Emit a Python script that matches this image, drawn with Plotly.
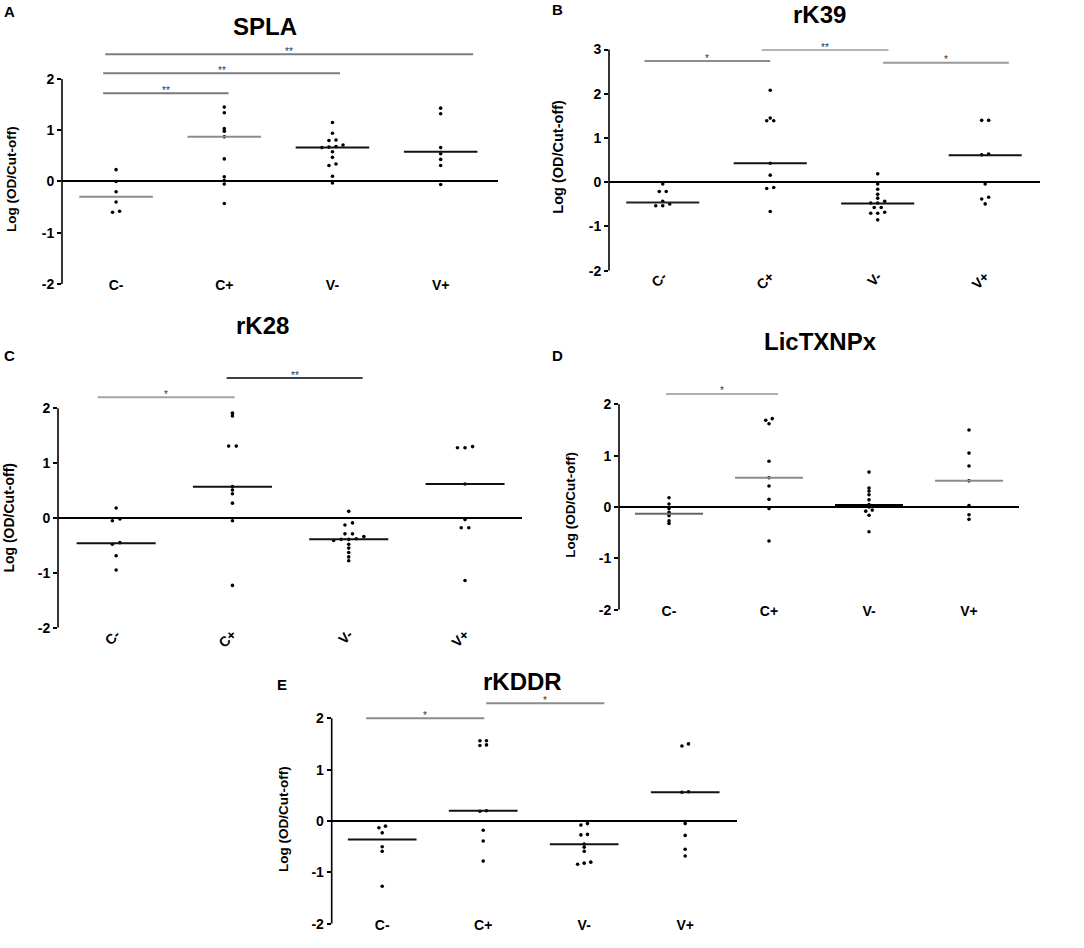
import plotly.graph_objects as go

W, H = 1084, 948
FONT = "Liberation Sans, Arial, sans-serif"

GROUPS = ["C-", "C+", "V-", "V+"]

# --- SPLA ---
SPLA_CN = [0.23, 0.0, -0.2, -0.4, -0.58, -0.6]
SPLA_CP = [1.45, 1.34, 1.03, 0.98, 0.87, 0.44, 0.09, 0.02, -0.05, -0.43]
SPLA_VN = [1.15, 0.94, 0.81, 0.80, 0.71, 0.68, 0.67, 0.66, 0.58, 0.47, 0.34, 0.31, 0.1, -0.03]
SPLA_VP = [1.43, 1.32, 0.66, 0.54, 0.43, 0.31, -0.06]
SPLA_MED = [-0.3, 0.87, 0.66, 0.58]
SPLA_SIG = [(0, 1, "**"), (0, 2, "**"), (0, 3, "**")]

# --- rK39 ---
RK39_CN = [-0.04, -0.21, -0.21, -0.43, -0.49, -0.53, -0.53]
RK39_CP = [2.08, 1.45, 1.39, 1.39, 0.43, 0.16, -0.12, -0.14, -0.66]
RK39_VN = [0.19, -0.04, -0.16, -0.27, -0.36, -0.43, -0.47, -0.47, -0.57, -0.57, -0.68, -0.70, -0.70, -0.85]
RK39_VP = [1.40, 1.40, 0.64, 0.62, -0.04, -0.34, -0.38, -0.49]
RK39_MED = [-0.46, 0.43, -0.48, 0.61]
RK39_SIG = [(0, 1, "*"), (1, 2, "**"), (2, 3, "*")]

# --- rK28 ---
RK28_CN = [0.18, -0.02, -0.05, -0.45, -0.48, -0.69, -0.95]
RK28_CP = [1.91, 1.86, 1.31, 1.31, 0.57, 0.51, 0.44, 0.27, -0.05, -1.23]
RK28_VN = [0.12, -0.09, -0.13, -0.29, -0.29, -0.34, -0.38, -0.39, -0.39, -0.41, -0.48, -0.55, -0.63, -0.71, -0.78]
RK28_VP = [1.30, 1.28, 1.28, 0.62, -0.03, -0.18, -0.18, -1.14]
RK28_MED = [-0.46, 0.57, -0.39, 0.62]
RK28_SIG = [(0, 1, "*"), (1, 2, "**")]

# --- LicTXNPx ---
LIC_CN = [0.18, 0.06, -0.03, -0.10, -0.17, -0.27, -0.32]
LIC_CP = [1.72, 1.69, 1.62, 0.89, 0.57, 0.41, 0.15, -0.03, -0.66]
LIC_VN = [0.68, 0.37, 0.31, 0.24, 0.14, 0.05, 0.0, -0.06, -0.08, -0.16, -0.48]
LIC_VP = [1.50, 1.05, 0.80, 0.51, 0.03, -0.15, -0.24]
LIC_MED = [-0.13, 0.57, 0.03, 0.51]
LIC_SIG = [(0, 1, "*")]

# --- rKDDR ---
KDDR_CN = [-0.10, -0.13, -0.23, -0.50, -0.59, -1.27]
KDDR_CP = [1.56, 1.56, 1.48, 1.47, 0.20, 0.19, -0.18, -0.39, -0.78]
KDDR_VN = [-0.05, -0.08, -0.26, -0.27, -0.45, -0.51, -0.59, -0.80, -0.82, -0.84]
KDDR_VP = [1.50, 1.46, 0.57, 0.56, -0.05, -0.28, -0.55, -0.68]
KDDR_MED = [-0.36, 0.20, -0.45, 0.56]
KDDR_SIG = [(0, 1, "*"), (1, 2, "*")]

BLK = "#111111"
GRY = "#8c8c8c"

# pixel geometry + styling of each panel
panels = [
    dict(title="SPLA", letter="A", data=[SPLA_CN, SPLA_CP, SPLA_VN, SPLA_VP], med=SPLA_MED, sig=SPLA_SIG,
         xpx=(62, 498), xr=(-0.5, 3.53), ytop=2, ypx=(79.6, 286.4), yhi=2.62, angle=0, standoff=-9,
         title_xy=(265, 27), letter_xy=(9, 12), ytitle_xy=(11.5, 181), ytitle_size=13.5,
         med_col=[GRY, GRY, BLK, BLK], med_w=[2, 2, 2, 2],
         bars=[(-0.12, 0.04, 1.72, "#7a7a7a"), (-0.12, 0.07, 2.11, "#7f7f7f"), (-0.10, 0.30, 2.48, "#7f7f7f")]),
    dict(title="rK39", letter="B", data=[RK39_CN, RK39_CP, RK39_VN, RK39_VP], med=RK39_MED, sig=RK39_SIG,
         xpx=(609, 1040), xr=(-0.5, 3.51), ytop=3, ypx=(50, 273), yhi=3.2, angle=-45, standoff=-6,
         title_xy=(819, 15), letter_xy=(557, 10), ytitle_xy=(558, 158), ytitle_size=14.5,
         med_col=["#222222", BLK, BLK, BLK], med_w=[2, 2, 2, 2],
         bars=[(-0.17, 0.0, 2.74, "#8c8c8c"), (-0.08, 0.10, 2.99, "#b4b4b4"), (0.05, 0.22, 2.70, "#999999")]),
    dict(title="rK28", letter="C", data=[RK28_CN, RK28_CP, RK28_VN, RK28_VP], med=RK28_MED, sig=RK28_SIG,
         xpx=(58, 522), xr=(-0.5, 3.49), ytop=2, ypx=(411.7, 633), yhi=2.75, angle=-45, standoff=-5,
         title_xy=(262, 328), letter_xy=(9, 359), ytitle_xy=(9, 522), ytitle_size=14,
         med_col=[BLK, BLK, BLK, BLK], med_w=[2, 2, 2, 2],
         bars=[(-0.16, 0.02, 2.2, "#a6a6a6"), (-0.05, 0.12, 2.55, "#404040")]),
    dict(title="LicTXNPx", letter="D", data=[LIC_CN, LIC_CP, LIC_VN, LIC_VP], med=LIC_MED, sig=LIC_SIG,
         xpx=(619, 1019), xr=(-0.5, 3.5), ytop=2, ypx=(407.7, 615), yhi=2.45, angle=0, standoff=-9,
         title_xy=(820, 344), letter_xy=(557, 359), ytitle_xy=(571, 509), ytitle_size=13.5,
         med_col=["#666666", GRY, "#000000", GRY], med_w=[2, 2, 3, 2],
         bars=[(-0.03, 0.09, 2.2, "#b0b0b0")]),
    dict(title="rKDDR", letter="E", data=[KDDR_CN, KDDR_CP, KDDR_VN, KDDR_VP], med=KDDR_MED, sig=KDDR_SIG,
         xpx=(331.7, 736.7), xr=(-0.5, 3.51), ytop=2, ypx=(724.3, 931.7), yhi=2.45, angle=0, standoff=-9,
         title_xy=(522, 687), letter_xy=(282, 690), ytitle_xy=(283, 826), ytitle_size=13.5,
         med_col=[BLK, BLK, BLK, BLK], med_w=[2, 2, 2, 2],
         bars=[(-0.16, 0.01, 2.0, "#8c8c8c"), (0.03, 0.2, 2.29, "#8c8c8c")]),
]


def swarm(vals, center, tol=0.045, dx=0.065):
    # spread near-equal values sideways, like a dot plot
    order = sorted(range(len(vals)), key=lambda i: vals[i])
    clusters = []
    for i in order:
        if clusters and vals[i] - vals[clusters[-1][-1]] < tol:
            clusters[-1].append(i)
        else:
            clusters.append([i])
    xs = [center] * len(vals)
    for cl in clusters:
        n = len(cl)
        for k, i in enumerate(cl):
            xs[i] = center + (k - (n - 1) / 2) * dx
    return xs


def px2paper(x, y):
    return x / W, 1 - y / H


fig = go.Figure()
annotations = []
shapes = []

for n, p in enumerate(panels, start=1):
    sfx = "" if n == 1 else str(n)
    xa, ya = "x" + sfx, "y" + sfx

    # y pixel mapping
    py_top, py_lo = p["ypx"]
    k = (py_lo - py_top) / (p["ytop"] + 2)

    def ypix(v):
        return py_lo - (v + 2) * k

    ydom = [1 - ypix(-2) / H, 1 - ypix(p["yhi"]) / H]
    xdom = [p["xpx"][0] / W, p["xpx"][1] / W]

    for g, vals in enumerate(p["data"]):
        fig.add_trace(go.Scatter(
            x=swarm(vals, g), y=vals, mode="markers",
            marker=dict(size=3.6, color="black"),
            xaxis=xa, yaxis=ya, showlegend=False, hoverinfo="y",
        ))
    for g, m in enumerate(p["med"]):
        fig.add_trace(go.Scatter(
            x=[g - 0.34, g + 0.34], y=[m, m], mode="lines",
            line=dict(color=p["med_col"][g], width=p["med_w"][g]),
            xaxis=xa, yaxis=ya, showlegend=False, hoverinfo="skip",
        ))

    # significance brackets
    for (i, j, stars), (l, r, h, col) in zip(p["sig"], p["bars"]):
        shapes.append(dict(type="line", xref=xa, yref=ya, x0=i + l, x1=j + r, y0=h, y1=h,
                           line=dict(color=col, width=2)))
        annotations.append(dict(xref=xa, yref=ya, x=(i + l + j + r) / 2, y=h, text=stars,
                                showarrow=False, yanchor="middle", yshift=3,
                                font=dict(family=FONT, size=10, color="#333333")))

    # left axis line only between -2 and top tick
    shapes.append(dict(type="line", xref=xa + " domain", yref=ya, x0=0, x1=0, y0=-2, y1=p["ytop"],
                       line=dict(color="black", width=1.6)))

    yt = list(range(-2, p["ytop"] + 1))
    fig.update_layout(**{
        "xaxis" + sfx: dict(
            domain=xdom, range=list(p["xr"]), anchor=ya,
            tickvals=list(range(len(GROUPS))), ticktext=GROUPS, tickangle=p["angle"],
            ticks="", showgrid=False, zeroline=False, showline=False,
            ticklabelstandoff=p["standoff"],
            tickfont=dict(family=FONT, size=14, color="black", weight="bold"),
        ),
        "yaxis" + sfx: dict(
            domain=ydom, range=[-2, p["yhi"]], anchor=xa,
            tickvals=yt, ticktext=[str(v) for v in yt],
            ticks="outside", ticklen=4, tickwidth=1.5, tickcolor="black",
            showgrid=False, showline=False,
            zeroline=True, zerolinecolor="black", zerolinewidth=1.6,
            tickfont=dict(family=FONT, size=14, color="black", weight="bold"),
        ),
    })

    tx, ty = px2paper(*p["title_xy"])
    annotations.append(dict(xref="paper", yref="paper", x=tx, y=ty, text=p["title"], showarrow=False,
                            xanchor="center", yanchor="middle",
                            font=dict(family=FONT, size=24, color="black", weight="bold")))
    lx, ly = px2paper(*p["letter_xy"])
    annotations.append(dict(xref="paper", yref="paper", x=lx, y=ly, text=p["letter"], showarrow=False,
                            xanchor="center", yanchor="middle",
                            font=dict(family=FONT, size=15, color="black", weight="bold")))
    ax_, ay_ = px2paper(*p["ytitle_xy"])
    annotations.append(dict(xref="paper", yref="paper", x=ax_, y=ay_, text="Log (OD/Cut-off)",
                            showarrow=False, textangle=-90, xanchor="center", yanchor="middle",
                            font=dict(family=FONT, size=p["ytitle_size"], color="black", weight="bold")))

fig.update_layout(
    width=W, height=H,
    margin=dict(l=0, r=0, t=0, b=0),
    paper_bgcolor="white", plot_bgcolor="white",
    annotations=annotations, shapes=shapes,
    showlegend=False,
)

# page margin off so the figure sits at the window's corner
fig.write_html("out.html", config={"displayModeBar": False},
               post_script="document.body.style.margin='0px';")
